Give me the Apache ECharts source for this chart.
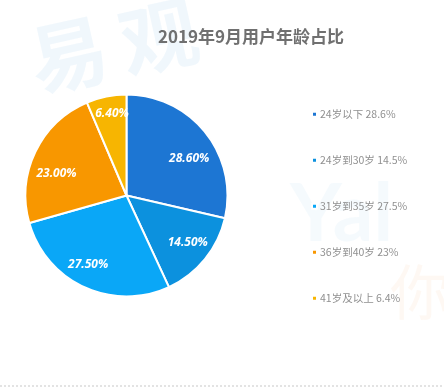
<!DOCTYPE html>
<html>
<head>
<meta charset="utf-8">
<script src="https://cdn.jsdelivr.net/npm/echarts@6/dist/echarts.min.js"></script>
<style>
html,body{margin:0;padding:0;background:#fff;}
#chart{width:444px;height:389px;}
</style>
</head>
<body>
<div id="chart"></div>
<script>
const titleText = '2019年9月用户年龄占比';
const categories = ['24岁以下', '24岁到30岁', '31岁到35岁', '36岁到40岁', '41岁及以上'];
const values = [28.6, 14.5, 27.5, 23, 6.4];
const colors = ['#1d76d3', '#0c91de', '#0aa7f7', '#f89700', '#f7b501'];

const cx = 126.5, cy = 195.5, R = 101;
// small per-label nudges (style only)
const labelNudge = [[2, 11], [1, -2], [-6, -1], [0, 12], [1, -6]];
const chart = echarts.init(document.getElementById('chart'));
chart.setOption({
  backgroundColor: '#ffffff',
  animation: false,
  title: {
    text: titleText,
    left: 246, top: 23, textAlign: 'center',
    textStyle: { fontFamily: '"Noto Sans CJK SC", sans-serif', fontSize: 17, fontWeight: 'bold', color: '#707070' }
  },
  graphic: [
    { type: 'text', left: 22, top: 8, rotation: 0.22, z: -10, silent: true,
      style: { text: '易', fontSize: 78, fontWeight: 'bold', fill: 'rgba(205,230,246,0.3)', fontFamily: '"Noto Sans CJK SC"' } },
    { type: 'text', left: 112, top: -10, rotation: 0.22, z: -10, silent: true,
      style: { text: '观', fontSize: 78, fontWeight: 'bold', fill: 'rgba(205,230,246,0.3)', fontFamily: '"Noto Sans CJK SC"' } },
    { type: 'text', left: 290, top: 175, z: -10, silent: true,
      style: { text: 'Yal', fontSize: 80, fontWeight: 'bold', fill: 'rgba(210,233,247,0.22)', fontFamily: 'Lato' } },
    { type: 'text', left: 390, top: 262, z: -10, silent: true,
      style: { text: '你', fontSize: 60, fill: 'rgba(250,222,200,0.22)', fontFamily: '"Noto Sans CJK SC"' } },
    { type: 'line', silent: true, shape: { x1: 0, y1: 386, x2: 444, y2: 386 },
      style: { stroke: '#c8c8c8', lineWidth: 1, lineDash: [2, 2] } }
  ],
  legend: {
    orient: 'vertical',
    left: 306, top: 104,
    itemWidth: 5, itemHeight: 5, itemGap: 35.5,
    icon: 'rect',
    textStyle: { fontFamily: '"Noto Sans CJK SC", sans-serif', fontSize: 10.5, color: '#909090', padding: [0, 0, 0, -2] },
    formatter: function (name) {
      const i = categories.indexOf(name);
      return name + ' ' + values[i] + '%';
    },
    data: categories
  },
  series: [{
    type: 'pie',
    center: [cx, cy],
    radius: [0, R],
    startAngle: 90,
    clockwise: true,
    color: colors,
    itemStyle: { borderColor: '#ffffff', borderWidth: 2 },
    label: {
      show: true, position: 'inside',
      formatter: function (p) { return p.value.toFixed(2) + '%'; },
      color: '#ffffff', fontSize: 12, fontWeight: 'bold', fontStyle: 'italic',
      fontFamily: '"Noto Sans", sans-serif'
    },
    labelLayout: function (p) {
      const r = p.labelRect;
      const lx = r.x + r.width / 2, ly = r.y + r.height / 2;
      const n = labelNudge[p.dataIndex] || [0, 0];
      return { dx: (lx - cx) * 0.45 + n[0], dy: (ly - cy) * 0.45 + n[1] };
    },
    emphasis: { disabled: true },
    data: categories.map((c, i) => ({ name: c, value: values[i] }))
  }]
});
</script>
</body>
</html>
